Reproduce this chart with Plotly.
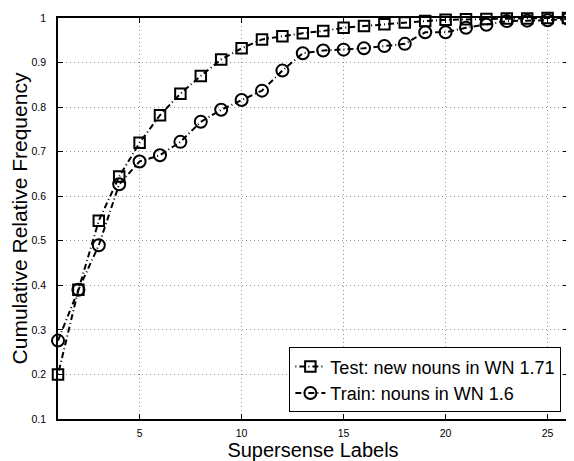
import plotly.graph_objects as go

x_labels = list(range(1, 27))
test_vals = [0.200, 0.390, 0.545, 0.644, 0.720, 0.782, 0.830, 0.870, 0.907, 0.932,
             0.952, 0.959, 0.966, 0.971, 0.978, 0.982, 0.986, 0.990, 0.993, 0.996,
             0.997, 0.998, 0.999, 0.999, 1.000, 1.000]
train_vals = [0.276, 0.390, 0.490, 0.627, 0.678, 0.692, 0.722, 0.767, 0.794, 0.816,
              0.837, 0.882, 0.921, 0.927, 0.929, 0.932, 0.937, 0.942, 0.968, 0.968,
              0.978, 0.985, 0.993, 0.994, 0.995, 0.998]
x_ticks = [5, 10, 15, 20, 25]
y_ticks = [0.1, 0.2, 0.3, 0.4, 0.5, 0.6, 0.7, 0.8, 0.9, 1.0]
y_ticktext = ["0.1", "0.2", "0.3", "0.4", "0.5", "0.6", "0.7", "0.8", "0.9", "1"]

FONT = "Liberation Sans, Arial, sans-serif"

fig = go.Figure()
fig.add_trace(go.Scatter(
    x=x_labels, y=test_vals, mode="lines+markers",
    name="Test: new nouns in WN 1.71",
    line=dict(color="black", width=2, dash="1px,3px,6px,3px"),
    marker=dict(symbol="square-open", size=10.5, color="black", line=dict(width=2, color="black")),
    cliponaxis=False,
))
fig.add_trace(go.Scatter(
    x=x_labels, y=train_vals, mode="lines+markers",
    name="Train: nouns in WN 1.6",
    line=dict(color="black", width=2, dash="6px,3px,1px,3px"),
    marker=dict(symbol="circle-open", size=12, color="black", line=dict(width=2, color="black")),
    cliponaxis=False,
))

axis_common = dict(
    showline=True, linecolor="black", linewidth=1.5, mirror="ticks",
    ticks="inside", ticklen=5, tickcolor="black",
    showgrid=True, gridcolor="#999999", griddash="1px,3px", gridwidth=1,
    zeroline=False, tickfont=dict(family=FONT, size=10.5, color="black"),
)

# The page body has an 8px default margin, so the margins below are offset to
# place the plot area where it sits in the reference.
fig.update_layout(
    width=574, height=461,
    paper_bgcolor="white", plot_bgcolor="white",
    margin=dict(l=50, r=14, t=10, b=50, autoexpand=False),
    font=dict(family=FONT, color="black"),
    xaxis=dict(range=[1, 26], tickvals=x_ticks, ticklabelstandoff=4,
               title=dict(text="Supersense Labels", font=dict(family=FONT, size=20), standoff=4),
               **axis_common),
    yaxis=dict(range=[0.1, 1.0], tickvals=y_ticks, ticktext=y_ticktext, ticklabelstandoff=8,
               title=dict(text="Cumulative Relative Frequency", font=dict(family=FONT, size=21), standoff=4),
               **axis_common),
    legend=dict(
        x=0.987, y=0.0164, xanchor="right", yanchor="bottom",
        bgcolor="white", bordercolor="black", borderwidth=1,
        font=dict(family=FONT, size=18, color="black"),
        tracegroupgap=0, itemwidth=30,
    ),
    showlegend=True,
)

fig.write_html("out.html")
